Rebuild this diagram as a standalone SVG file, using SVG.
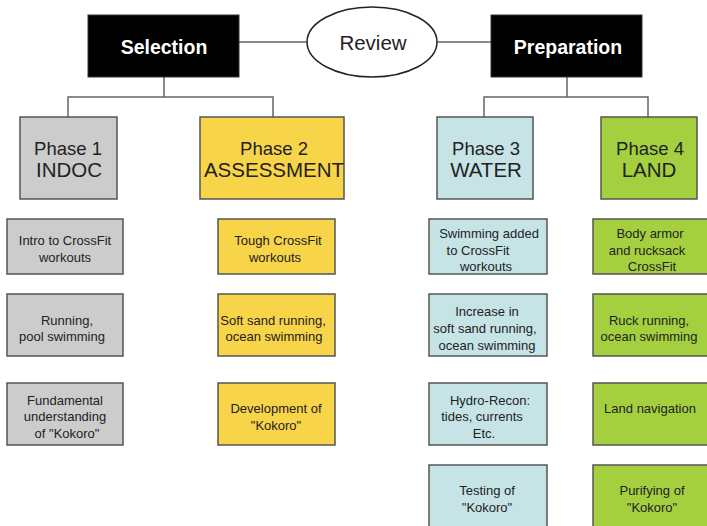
<svg xmlns="http://www.w3.org/2000/svg" width="707" height="526" viewBox="0 0 707 526">
<style>
text{font-family:"Liberation Sans",Arial,sans-serif;fill:#222;text-anchor:middle}
.top{fill:#000;stroke:#333;stroke-width:1}
.top-t{fill:#fff;font-weight:bold;font-size:19.5px}
.ph{stroke:#555;stroke-width:1.5}
.p1{font-size:18.5px}
.p2{font-size:20.5px}
.s{font-size:13px}
.g{fill:#cccccc}
.y{fill:#f8d448}
.b{fill:#c6e4e6}
.gr{fill:#a4d03f}
.c{fill:none;stroke:#666;stroke-width:1.5}
</style>
<g id="connectors">
<line class="c" x1="239" y1="42" x2="307" y2="42"/>
<line class="c" x1="437" y1="42" x2="491" y2="42"/>
<path class="c" d="M164 77V97M68 117V97H273V117"/>
<path class="c" d="M567 77V97M484 117V97H648V117"/>
</g>
<g id="selection"><rect class="top" x="88" y="15" width="151" height="62"/><text class="top-t" x="164" y="54">Selection</text></g>
<g id="review"><ellipse cx="372" cy="42" rx="65" ry="35" fill="#fff" stroke="#222" stroke-width="1.5"/><text x="373" y="50" style="font-size:20.5px">Review</text></g>
<g id="preparation"><rect class="top" x="491" y="15" width="151" height="62"/><text class="top-t" x="568" y="54">Preparation</text></g>

<g id="phase1"><rect class="ph g" x="20" y="117" width="97" height="82"/><text class="p1" x="68" y="155">Phase 1</text><text class="p2" x="69" y="177">INDOC</text></g>
<g id="phase2"><rect class="ph y" x="200" y="117" width="144" height="82"/><text class="p1" x="274" y="155">Phase 2</text><text class="p2" x="274" y="177">ASSESSMENT</text></g>
<g id="phase3"><rect class="ph b" x="437" y="117" width="96" height="82"/><text class="p1" x="486" y="155">Phase 3</text><text class="p2" x="486" y="177">WATER</text></g>
<g id="phase4"><rect class="ph gr" x="601" y="117" width="96" height="82"/><text class="p1" x="650" y="155">Phase 4</text><text class="p2" x="649" y="177">LAND</text></g>

<g id="p1a"><rect class="ph g" x="7" y="219" width="116" height="55"/><text class="s" x="65" y="245">Intro to CrossFit</text><text class="s" x="65" y="262">workouts</text></g>
<g id="p1b"><rect class="ph g" x="7" y="294" width="116" height="62"/><text class="s" x="67" y="325">Running,</text><text class="s" x="62" y="341">pool swimming</text></g>
<g id="p1c"><rect class="ph g" x="7" y="383" width="116" height="62"/><text class="s" x="65" y="405">Fundamental</text><text class="s" x="65" y="421">understanding</text><text class="s" x="67" y="438">of "Kokoro"</text></g>

<g id="p2a"><rect class="ph y" x="218" y="219" width="117" height="55"/><text class="s" x="278" y="245">Tough CrossFit</text><text class="s" x="275" y="262">workouts</text></g>
<g id="p2b"><rect class="ph y" x="218" y="294" width="117" height="62"/><text class="s" x="273" y="325">Soft sand running,</text><text class="s" x="274" y="341">ocean swimming</text></g>
<g id="p2c"><rect class="ph y" x="218" y="383" width="117" height="62"/><text class="s" x="276" y="413">Development of</text><text class="s" x="276" y="430">"Kokoro"</text></g>

<g id="p3a"><rect class="ph b" x="429" y="219" width="118" height="55"/><text class="s" x="489" y="238">Swimming added</text><text class="s" x="478" y="255">to CrossFit</text><text class="s" x="486" y="271">workouts</text></g>
<g id="p3b"><rect class="ph b" x="429" y="294" width="118" height="62"/><text class="s" x="487" y="316">Increase in</text><text class="s" x="485" y="333">soft sand running,</text><text class="s" x="487" y="350">ocean swimming</text></g>
<g id="p3c"><rect class="ph b" x="429" y="383" width="118" height="62"/><text class="s" x="490" y="405">Hydro-Recon:</text><text class="s" x="482" y="421">tides, currents</text><text class="s" x="484" y="438">Etc.</text></g>
<g id="p3d"><rect class="ph b" x="429" y="465" width="118" height="70"/><text class="s" x="487" y="495">Testing of</text><text class="s" x="487" y="512">"Kokoro"</text></g>

<g id="p4a"><rect class="ph gr" x="593" y="219" width="120" height="55"/><text class="s" x="650" y="238">Body armor</text><text class="s" x="647" y="255">and rucksack</text><text class="s" x="652" y="271">CrossFit</text></g>
<g id="p4b"><rect class="ph gr" x="593" y="294" width="120" height="62"/><text class="s" x="649" y="325">Ruck running,</text><text class="s" x="649" y="341">ocean swimming</text></g>
<g id="p4c"><rect class="ph gr" x="593" y="383" width="120" height="62"/><text class="s" x="650" y="413">Land navigation</text></g>
<g id="p4d"><rect class="ph gr" x="593" y="465" width="120" height="70"/><text class="s" x="652" y="495">Purifying of</text><text class="s" x="652" y="512">"Kokoro"</text></g>
</svg>
